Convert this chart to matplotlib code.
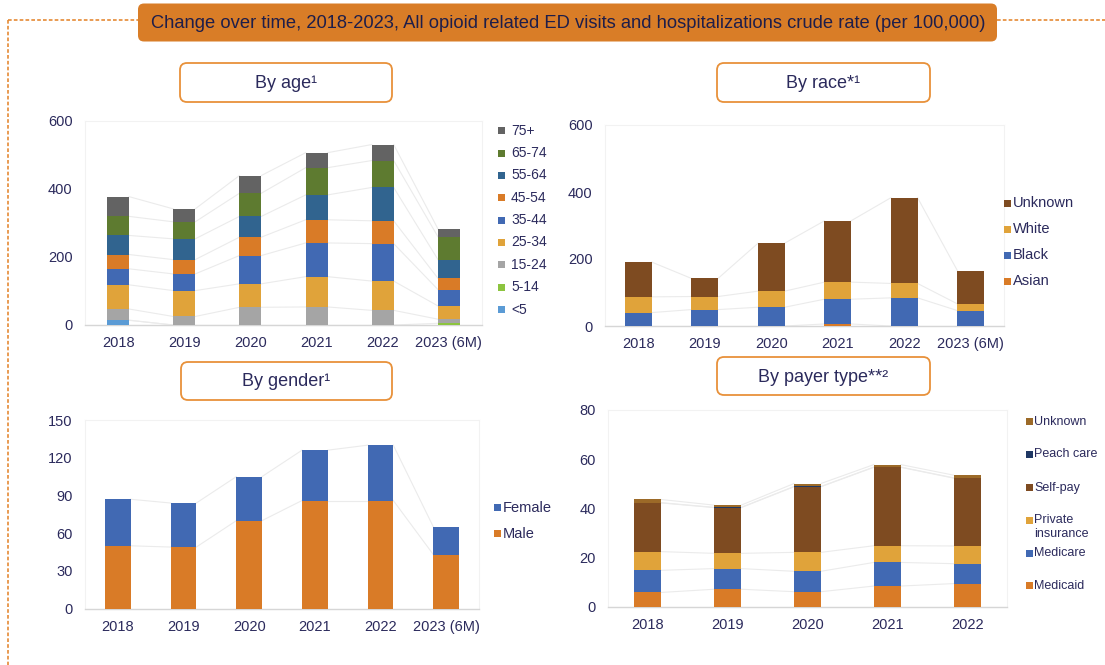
import numpy as np
import matplotlib.pyplot as plt
from matplotlib.patches import FancyBboxPatch, Rectangle

plt.rcParams['font.family'] = ['Liberation Sans', 'DejaVu Sans']

NAVY = '#2B2A5C'
ORANGE = '#D97D27'
SERIES_LINE = '#EBEBEB'

years = ['2018', '2019', '2020', '2021', '2022', '2023 (6M)']
payer_years = ['2018', '2019', '2020', '2021', '2022']

# by age (crude rate per 100,000)
age_labels = ['<5', '5-14', '15-24', '25-34', '35-44', '45-54', '55-64', '65-74', '75+']
age_lt5 = [14, 0, 0, 0, 0, 0]
age_5_14 = [0, 0, 0, 0, 0, 5]
age_15_24 = [33, 25, 52, 53, 43, 12]
age_25_34 = [71, 76, 69, 89, 86, 39]
age_35_44 = [47, 49, 83, 99, 110, 48]
age_45_54 = [42, 42, 54, 68, 67, 33]
age_55_64 = [56, 61, 61, 73, 98, 55]
age_65_74 = [56, 50, 68, 80, 79, 67]
age_75p = [58, 38, 52, 44, 47, 23]

# by race
race_labels = ['Asian', 'Black', 'White', 'Unknown']
race_asian = [0, 0, 0, 6, 0, 0]
race_black = [40, 49, 56, 74, 84, 46]
race_white = [47, 39, 48, 51, 43, 20]
race_unknown = [104, 54, 143, 183, 256, 99]

# by gender
gender_labels = ['Male', 'Female']
male = [50, 49, 70, 86, 86, 43]
female = [37, 35, 35, 40, 44, 22]

# by payer type
payer_labels = ['Medicaid', 'Medicare', 'Private\ninsurance', 'Self-pay', 'Peach care', 'Unknown']
pay_medicaid = [5.8, 7.1, 6.1, 8.4, 9.4]
pay_medicare = [9.0, 8.4, 8.3, 9.6, 8.1]
pay_private = [7.6, 6.2, 7.7, 6.8, 7.2]
pay_selfpay = [19.8, 18.6, 26.7, 31.9, 27.6]
pay_peach = [0.1, 0.1, 0.1, 0.1, 0.1]
pay_unknown = [1.3, 0.9, 1.2, 1.0, 1.1]

age_colors = ['#5B9BD5', '#8CC43F', '#A5A5A5', '#E0A33A', '#4169B3',
              '#D97B27', '#31648F', '#5E7B30', '#636363']
race_colors = ['#D97B27', '#4169B3', '#E0A33A', '#7E4B21']
gender_colors = ['#D97B27', '#4169B3']
payer_colors = ['#D97B27', '#4169B3', '#E0A33A', '#7E4B21', '#1F3864', '#9C6A28']

W, H = 1105, 665
fig = plt.figure(figsize=(W / 100, H / 100), dpi=100)


def px_axes(left, right, top, bottom):
    return fig.add_axes([left / W, (H - bottom) / H, (right - left) / W, (bottom - top) / H])


def stacked(ax, cats, series, colors, width, ymax, yticks):
    x = np.arange(len(cats))
    base = np.zeros(len(cats))
    for vals, c in zip(series, colors):
        top = base + np.array(vals, dtype=float)
        ax.bar(x, vals, width, bottom=base, color=c, zorder=3, linewidth=0)
        # excel style series lines between bar tops
        for i in range(len(x) - 1):
            ax.plot([x[i] + width / 2, x[i + 1] - width / 2], [top[i], top[i + 1]],
                    color=SERIES_LINE, lw=0.8, zorder=2)
        base = top
    ax.set_xlim(-0.5, len(cats) - 0.5)
    ax.set_ylim(0, ymax)
    ax.set_xticks(x)
    ax.set_xticklabels(cats)
    ax.set_yticks(yticks)
    ax.tick_params(length=0, colors=NAVY, labelsize=10.5)
    ax.tick_params(axis='x', pad=8)
    ax.tick_params(axis='y', pad=9)
    for s in ['top', 'right', 'left']:
        ax.spines[s].set_color('#F2F2F2')
        ax.spines[s].set_linewidth(0.8)
    ax.spines['bottom'].set_color('#D6D6D6')
    ax.spines['bottom'].set_linewidth(1.0)


ax1 = px_axes(85, 482, 120.7, 325)
stacked(ax1, years, [age_lt5, age_5_14, age_15_24, age_25_34, age_35_44,
                     age_45_54, age_55_64, age_65_74, age_75p],
        age_colors, 0.33, 600, [0, 200, 400, 600])

ax2 = px_axes(605, 1004, 125, 326)
stacked(ax2, years, [race_asian, race_black, race_white, race_unknown],
        race_colors, 0.40, 600, [0, 200, 400, 600])

ax3 = px_axes(85, 479, 420, 608.7)
stacked(ax3, years, [male, female], gender_colors, 0.39, 150, [0, 30, 60, 90, 120, 150])

ax4 = px_axes(608, 1007, 410, 606.7)
stacked(ax4, payer_years, [pay_medicaid, pay_medicare, pay_private, pay_selfpay,
                           pay_peach, pay_unknown],
        payer_colors, 0.337, 80, [0, 20, 40, 60, 80])

# overlay in pixel coordinates for frame, headings and legends
ov = fig.add_axes([0, 0, 1, 1])
ov.set_xlim(0, W)
ov.set_ylim(H, 0)
ov.axis('off')
ov.patch.set_alpha(0)
ov.set_zorder(10)

dash = dict(color='#E58A35', lw=1.2, dashes=(2.2, 1.3))
ov.plot([8, 138], [20, 20], **dash)
ov.plot([997, W], [20, 20], **dash)
ov.plot([8, 8], [20, H], **dash)

ov.add_patch(FancyBboxPatch((138, 3.5), 859, 38, boxstyle='round,pad=0,rounding_size=6',
                            fc=ORANGE, ec='none'))
ov.text(568, 23, 'Change over time, 2018-2023, All opioid related ED visits and '
        'hospitalizations crude rate (per 100,000)',
        ha='center', va='center', fontsize=13.2, color='#1E1E4A')

heads = [(180, 63, 212, 39, 'By age¹'), (717, 63, 213, 39, 'By race*¹'),
         (181, 362, 211, 38, 'By gender¹'), (717, 357, 213, 38, 'By payer type**²')]
for x0, y0, w, h, t in heads:
    ov.add_patch(FancyBboxPatch((x0, y0), w, h, boxstyle='round,pad=0,rounding_size=7',
                                fc='white', ec='#E8913A', lw=1.3))
    ov.text(x0 + w / 2, y0 + h / 2 + 1, t, ha='center', va='center', fontsize=13, color=NAVY)


def legend(labels, colors, xs, xt, ys, yt, size, sq=7):
    for lab, c, y1, y2 in zip(labels, colors, ys, yt):
        ov.add_patch(Rectangle((xs, y1 - sq / 2), sq, sq, fc=c, ec='none'))
        ov.text(xt, y2, lab, ha='left', va='center', fontsize=size, color=NAVY,
                linespacing=1.15)


age_y = [130.7 + 22.35 * k for k in range(9)][::-1]
legend(age_labels, age_colors, 498, 511, age_y, age_y, 10)

race_y = [281, 255, 229, 203]
legend(race_labels, race_colors, 1004, 1013, race_y, race_y, 10.5)

gender_y = [533.7, 507.7]
legend(gender_labels, gender_colors, 494, 503, gender_y, gender_y, 10.5)

pay_sq = [585.7, 553, 520, 487.7, 454, 421.7]
pay_txt = [585.7, 553, 527, 487.7, 454, 421.7]
legend(payer_labels, payer_colors, 1026, 1034, pay_sq, pay_txt, 9)

fig.savefig('out.png', dpi=100)
